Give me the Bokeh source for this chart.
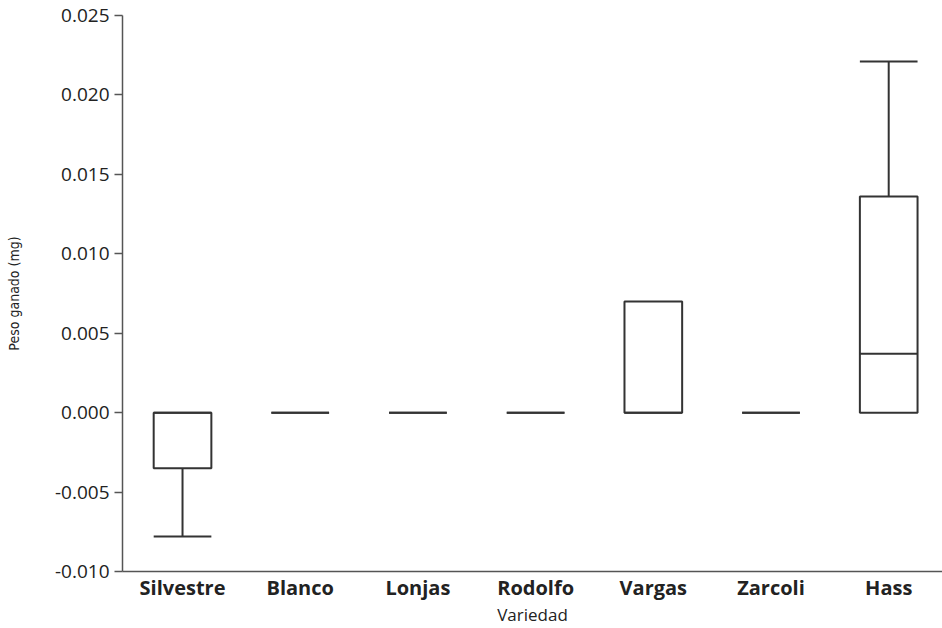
from bokeh.plotting import figure
from bokeh.models import Range1d, FixedTicker, NumeralTickFormatter, ColumnDataSource
from bokeh.embed import file_html
from bokeh.resources import INLINE

categories = ["Silvestre", "Blanco", "Lonjas", "Rodolfo", "Vargas", "Zarcoli", "Hass"]
q1 = [-0.0035, 0.0, 0.0, 0.0, 0.0, 0.0, 0.0]
median = [0.0, 0.0, 0.0, 0.0, 0.0, 0.0, 0.0037]
q3 = [0.0, 0.0, 0.0, 0.0, 0.0070, 0.0, 0.0136]
lower = [-0.0078, 0.0, 0.0, 0.0, 0.0, 0.0, 0.0]
upper = [0.0, 0.0, 0.0, 0.0, 0.0070, 0.0, 0.0221]
y_ticks = [-0.010, -0.005, 0.000, 0.005, 0.010, 0.015, 0.020, 0.025]

xs = list(range(1, len(categories) + 1))
W = 0.49

src = ColumnDataSource(dict(x=xs, q1=q1, median=median, q3=q3, lower=lower, upper=upper,
                            left=[v - W / 2 for v in xs], right=[v + W / 2 for v in xs]))

p = figure(width=942, height=628, output_backend="svg", toolbar_location=None,
           x_range=Range1d(0.49, 7.457), y_range=Range1d(-0.010, 0.025),
           min_border_left=122, min_border_right=0, min_border_top=15, min_border_bottom=57)

line_col = "#333333"
p.segment(x0="x", y0="q3", x1="x", y1="upper", source=src, line_color=line_col, line_width=2)
p.segment(x0="x", y0="q1", x1="x", y1="lower", source=src, line_color=line_col, line_width=2)
cap_up = [i for i in range(len(xs)) if upper[i] > q3[i]]
cap_lo = [i for i in range(len(xs)) if lower[i] < q1[i]]
p.segment(x0=[xs[i] - W / 2 for i in cap_up], y0=[upper[i] for i in cap_up],
          x1=[xs[i] + W / 2 for i in cap_up], y1=[upper[i] for i in cap_up],
          line_color=line_col, line_width=2)
p.segment(x0=[xs[i] - W / 2 for i in cap_lo], y0=[lower[i] for i in cap_lo],
          x1=[xs[i] + W / 2 for i in cap_lo], y1=[lower[i] for i in cap_lo],
          line_color=line_col, line_width=2)
p.quad(left="left", right="right", bottom="q1", top="q3", source=src,
       fill_color="white", line_color=line_col, line_width=2)
p.segment(x0="left", y0="median", x1="right", y1="median", source=src,
          line_color=line_col, line_width=2)

p.grid.visible = False
p.outline_line_color = None
p.background_fill_color = "white"
p.border_fill_color = "white"

font = "Open Sans"
ax = p.xaxis[0]
ax.ticker = FixedTicker(ticks=xs)
ax.major_label_overrides = {x: c for x, c in zip(xs, categories)}
ax.major_tick_out = 0
ax.major_tick_in = 0
ax.minor_tick_out = 0
ax.minor_tick_in = 0
ax.major_label_standoff = 2
ax.major_label_text_font = font
ax.major_label_text_font_size = "20px"
ax.major_label_text_font_style = "bold"
ax.major_label_text_color = "#222222"
ax.axis_line_color = "#555555"
ax.axis_line_width = 1.5
ax.axis_label = "Variedad"
ax.axis_label_text_font = font
ax.axis_label_text_font_size = "17px"
ax.axis_label_text_font_style = "normal"
ax.axis_label_text_color = "#222222"
ax.axis_label_standoff = -1

ay = p.yaxis[0]
ay.ticker = FixedTicker(ticks=y_ticks)
ay.formatter = NumeralTickFormatter(format="0.000")
ay.major_tick_out = 8
ay.major_tick_in = 0
ay.minor_tick_out = 0
ay.minor_tick_in = 0
ay.major_tick_line_color = "#555555"
ay.major_tick_line_width = 1.5
ay.major_label_standoff = 5
ay.major_label_text_font = font
ay.major_label_text_font_size = "19px"
ay.major_label_text_color = "#222222"
ay.axis_line_color = "#555555"
ay.axis_line_width = 1.5
ay.axis_label = "Peso ganado (mg)"
ay.axis_label_text_font = "DejaVu Sans Condensed, Liberation Sans Narrow, sans-serif"
ay.axis_label_text_font_size = "14px"
ay.axis_label_text_font_style = "normal"
ay.axis_label_text_color = "#222222"
ay.axis_label_standoff = 30

open("out.html", "w").write(file_html(p, INLINE))
